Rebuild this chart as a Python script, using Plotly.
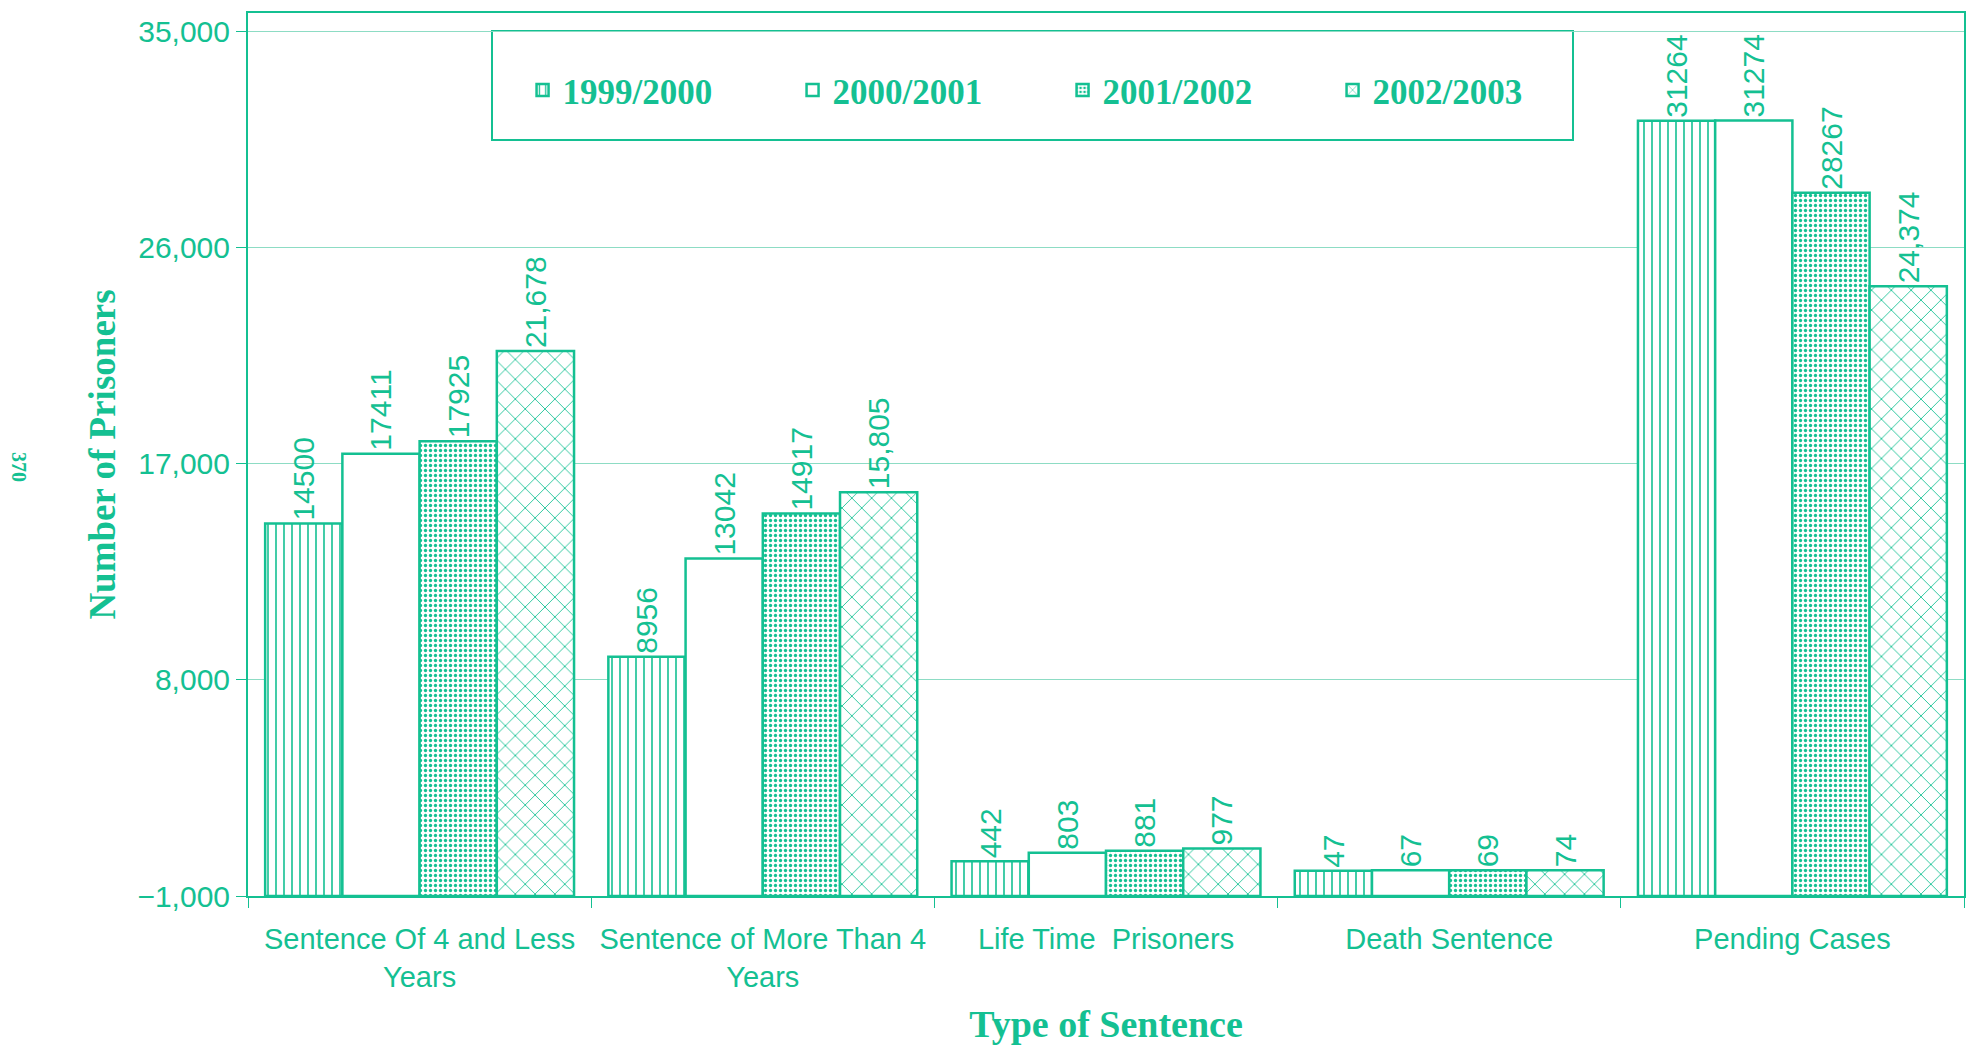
import plotly.graph_objects as go

TEAL = "#14c092"
GRID = "#8ddcc4"

categories = [
    "Sentence Of 4 and Less<br>Years",
    "Sentence of More Than 4<br>Years",
    "Life Time\u00a0 Prisoners",
    "Death Sentence",
    "Pending Cases",
]
years = ["1999/2000", "2000/2001", "2001/2002", "2002/2003"]

prisoners = {
    "1999/2000": [14500, 8956, 442, 47, 31264],
    "2000/2001": [17411, 13042, 803, 67, 31274],
    "2001/2002": [17925, 14917, 881, 69, 28267],
    "2002/2003": [21678, 15805, 977, 74, 24374],
}
value_labels = {
    "1999/2000": ["14500", "8956", "442", "47", "31264"],
    "2000/2001": ["17411", "13042", "803", "67", "31274"],
    "2001/2002": ["17925", "14917", "881", "69", "28267"],
    "2002/2003": ["21,678", "15,805", "977", "74", "24,374"],
}

y_min = -1000
y_ticks = [-1000, 8000, 17000, 26000, 35000]

patterns = {
    "1999/2000": dict(shape="|", size=8, solidity=0.2, fgcolor=TEAL, bgcolor="white", fillmode="replace"),
    "2000/2001": dict(shape="", fgcolor=TEAL, bgcolor="white"),
    "2001/2002": dict(shape=".", size=5, solidity=0.35, fgcolor=TEAL, bgcolor="white", fillmode="replace"),
    "2002/2003": dict(shape="x", size=14, solidity=0.12, fgcolor=TEAL, bgcolor="white", fillmode="replace"),
}

fig = go.Figure()
for yr in years:
    # bars start at the axis floor (-1000) like the original
    fig.add_trace(go.Bar(
        name=yr,
        x=categories,
        y=[v - y_min for v in prisoners[yr]],
        base=y_min,
        text=value_labels[yr],
        textposition="outside",
        textangle=-90,
        constraintext="none",
        cliponaxis=False,
        textfont=dict(family="Liberation Sans, Arial", size=30, color=TEAL),
        marker=dict(color="white", line=dict(color=TEAL, width=2.5), pattern=patterns[yr]),
    ))

# page body adds an 8px offset, so the figure is a bit smaller than the window
fig.update_layout(
    width=1962, height=1037,
    paper_bgcolor="white", plot_bgcolor="white",
    barmode="group", bargap=0.1, bargroupgap=0,
    margin=dict(l=240, r=6, t=5, b=149),
    font=dict(family="Liberation Sans, Arial", color=TEAL),
    showlegend=True,
    legend=dict(
        orientation="h", x=0.16, y=0.946, xanchor="left", yanchor="top",
        font=dict(family="Liberation Serif, Times New Roman", size=35, color=TEAL, weight="bold"),
        entrywidth=225, bgcolor="rgba(0,0,0,0)", borderwidth=0,
    ),
    shapes=[dict(
        type="rect", xref="paper", yref="paper",
        x0=(492 - 248) / 1716, x1=(1573 - 248) / 1716,
        y0=(896 - 140) / 883, y1=(896 - 31) / 883,
        line=dict(color=TEAL, width=2), fillcolor="white", layer="below",
    )],
    annotations=[dict(
        text="<b>370</b>", xref="paper", yref="paper",
        x=(19 - 248) / 1716, y=(896 - 467) / 883, showarrow=False,
        xanchor="center", yanchor="middle",
        textangle=90, font=dict(family="Liberation Serif, Times New Roman", size=20, color=TEAL),
    )],
)

fig.update_xaxes(
    automargin=False,
    showline=True, linecolor=TEAL, linewidth=2, mirror=True,
    ticks="outside", tickson="boundaries", ticklen=10, tickcolor=TEAL,
    tickfont=dict(size=29, color=TEAL), ticklabelstandoff=16,
    title=dict(text="<b>Type of Sentence</b>", standoff=40,
               font=dict(family="Liberation Serif, Times New Roman", size=38, color=TEAL)),
)
fig.update_yaxes(
    automargin=False,
    range=[y_min, 35750], tickvals=y_ticks, tickformat=",",
    showline=True, linecolor=TEAL, linewidth=2, mirror=True,
    showgrid=True, gridcolor=GRID, gridwidth=1, zeroline=False,
    ticks="outside", ticklen=10, tickcolor=TEAL,
    tickfont=dict(size=30, color=TEAL),
    title=dict(text="<b>Number of Prisoners</b>", standoff=10,
               font=dict(family="Liberation Serif, Times New Roman", size=37, color=TEAL)),
)

fig.write_html("out.html")
